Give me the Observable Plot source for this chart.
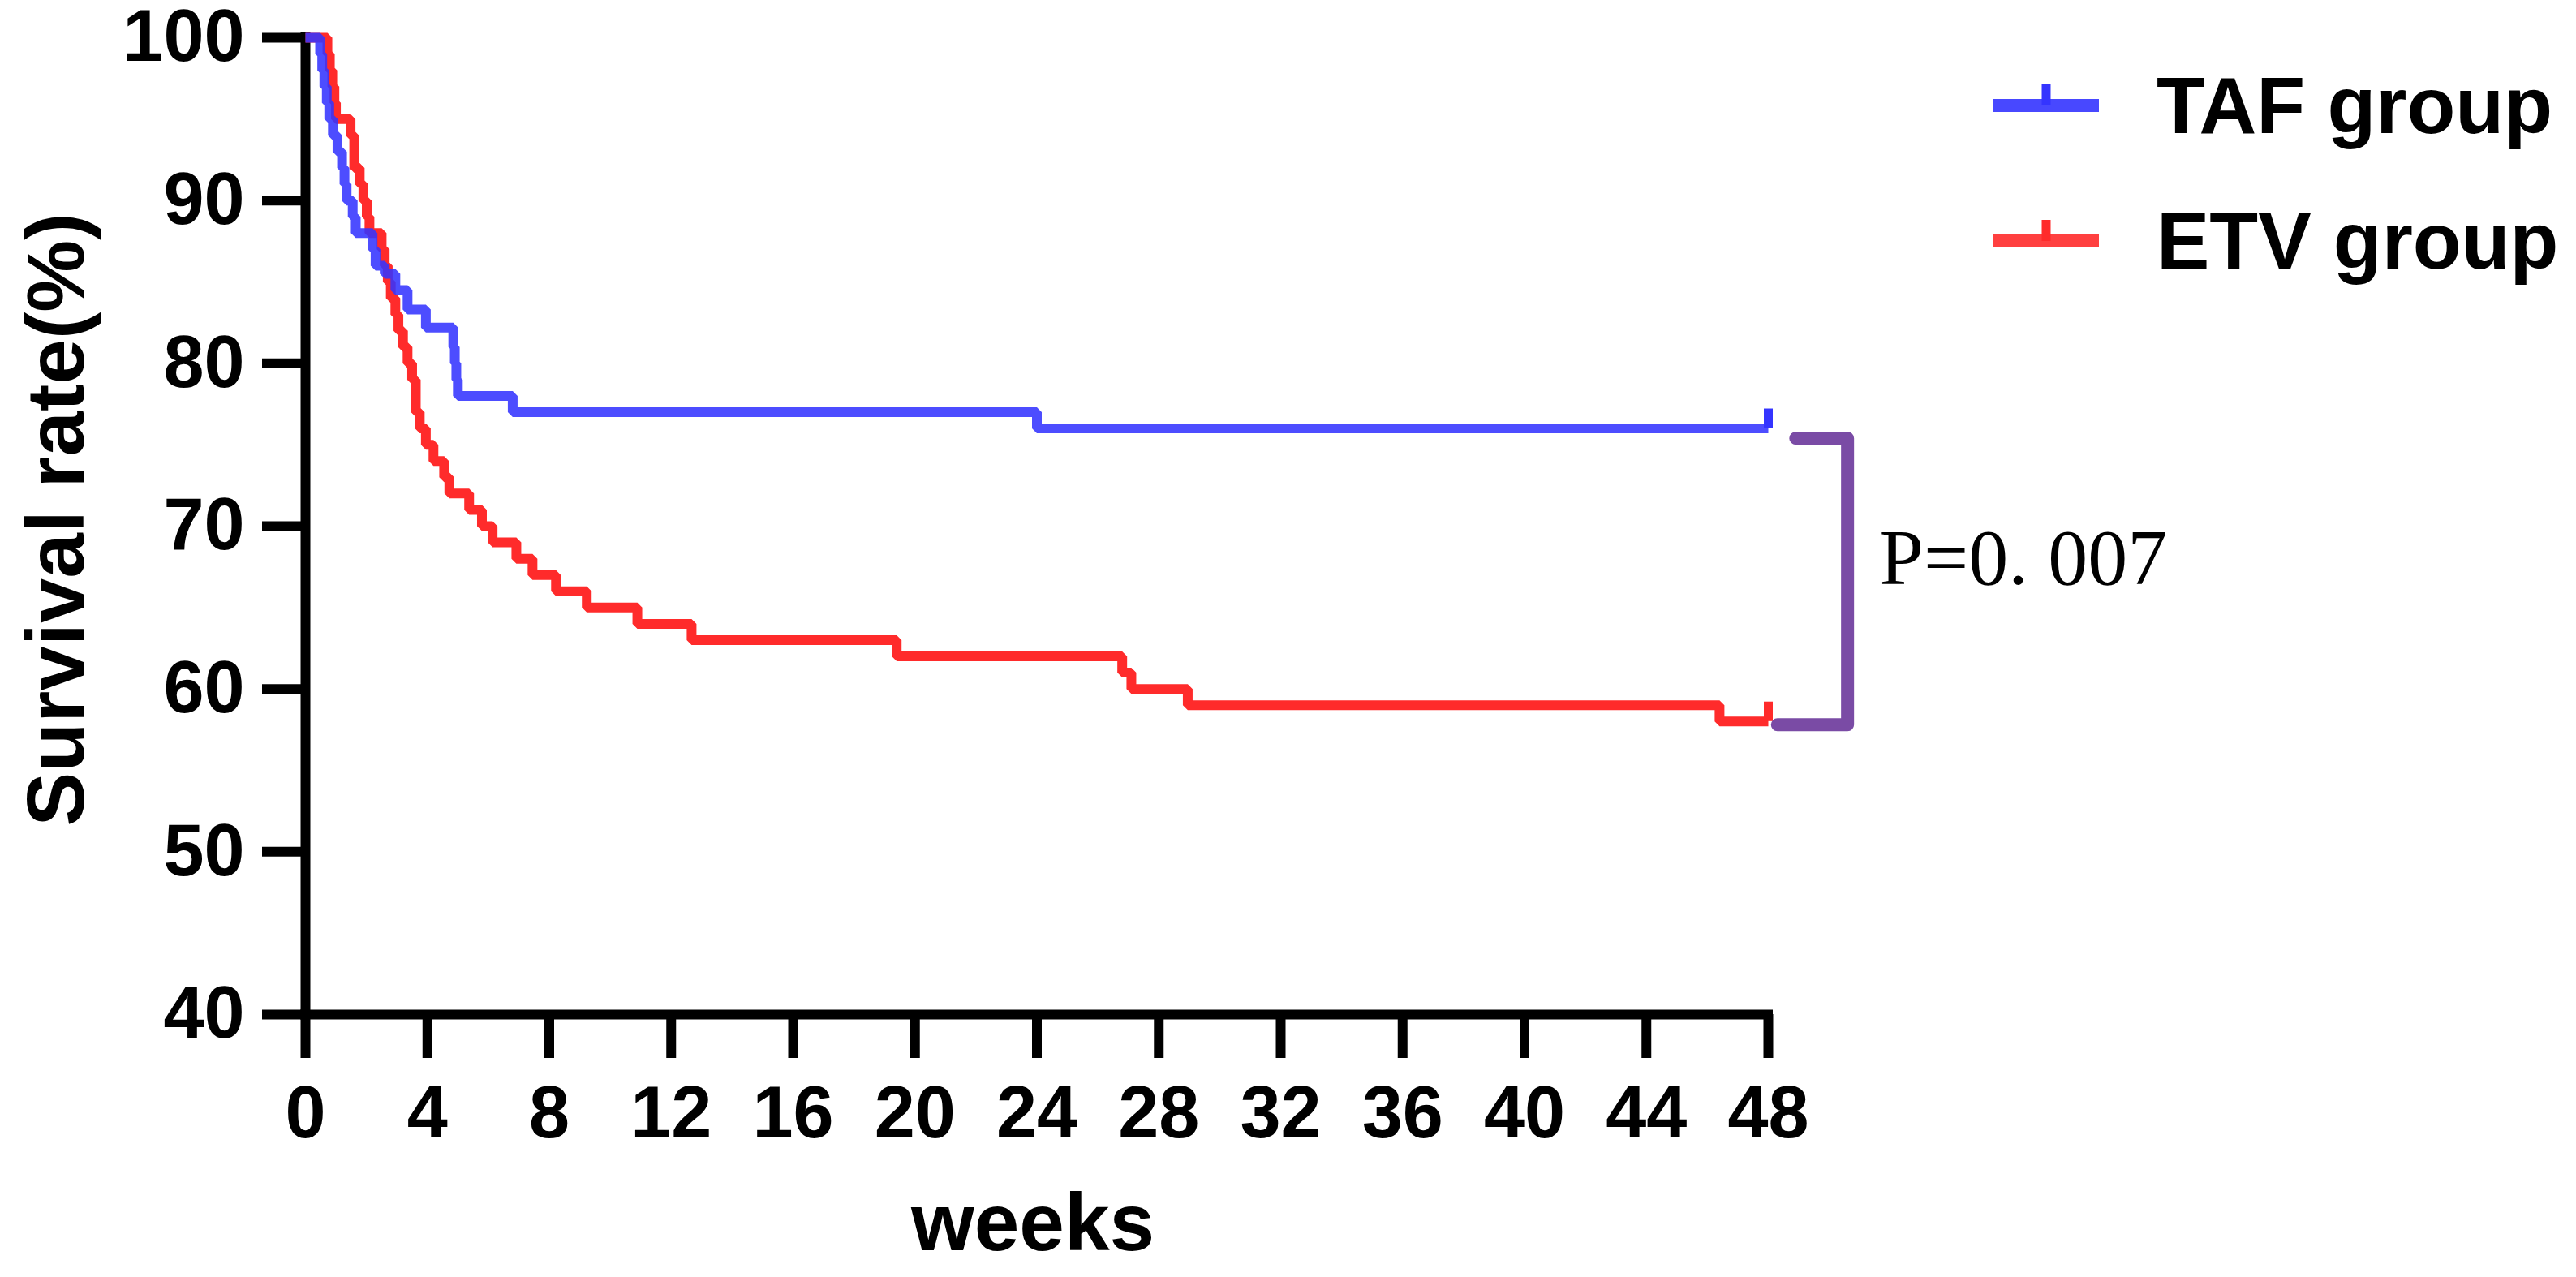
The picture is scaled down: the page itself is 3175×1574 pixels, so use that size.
<!DOCTYPE html>
<html>
<head>
<meta charset="utf-8">
<script src="https://cdn.jsdelivr.net/npm/d3@7"></script>
<script src="https://cdn.jsdelivr.net/npm/@observablehq/plot@0.6"></script>
<style>
  html, body { margin: 0; padding: 0; background: #fff; }
  #wrap { position: relative; width: 3175px; height: 1574px; background: #fff; }
  .leg { position: absolute; left: 2457px; height: 120px; display: flex; align-items: center;
         font-family: "Liberation Sans", Arial, sans-serif; font-weight: bold; font-size: 98px;
         line-height: 1; color: #000; white-space: nowrap; }
  .leg svg { margin-right: 71px; display: block; }
</style>
</head>
<body>
<div id="wrap"></div>
<script>
// ---- data ----
const weekTicks = [0, 4, 8, 12, 16, 20, 24, 28, 32, 36, 40, 44, 48];
const rateTicks = [40, 50, 60, 70, 80, 90, 100];
const groups = ["TAF group", "ETV group"];

const tafWeeks = [0, 0.48, 0.55, 0.62, 0.7, 0.78, 0.9, 1.05, 1.2, 1.28, 1.35, 1.55, 1.65, 2.2, 2.3, 2.6, 2.95, 3.35, 3.95, 4.85, 4.9, 4.95, 5.0, 6.8, 24, 48];
const tafRate  = [100, 99, 98, 97, 96, 95, 94, 93, 92, 91, 90, 89, 88, 87, 86, 85.5, 84.5, 83.3, 82.2, 81, 80, 79, 78, 77, 76, 76];

const etvWeeks = [0, 0.72, 0.8, 0.88, 0.95, 1.0, 1.48, 1.6, 1.78, 1.9, 2.01, 2.1, 2.5, 2.6, 2.7, 2.8, 2.95, 3.05, 3.2, 3.35, 3.5, 3.62, 3.75, 3.95, 4.2, 4.55, 4.72, 5.37, 5.79, 6.14, 6.92, 7.45, 8.22, 9.23, 10.89, 12.67, 19.4, 26.8, 27.1, 28.95, 46.4, 48];
const etvRate  = [100, 99, 98, 97, 96, 95, 94, 92, 91, 90, 89, 88, 87, 86, 85, 84, 83, 82, 81, 80, 79, 77, 76, 75, 74, 73, 72, 71, 70, 69, 68, 67, 66, 65, 64, 63, 62, 61, 60, 59, 58, 58];

const tafCensorWeeks = [48];
const etvCensorWeeks = [48];

const pLabel = "P=0. 007";
const xLabel = "weeks";
const yLabel = "Survival rate(%)";

// ---- styles ----
const colors = ["#3434ff", "#ff2b2b"];
const bracketColor = "#7a4ba5";

// ---- build tables ----
const toRows = (w, r) => w.map((t, i) => ({t, s: r[i]}));
const taf = toRows(tafWeeks, tafRate);
const etv = toRows(etvWeeks, etvRate);
const survAt = (rows, t) => { let s = rows[0].s; for (const d of rows) if (d.t <= t) s = d.s; return s; };
const tafCens = tafCensorWeeks.map(t => ({t, s: survAt(taf, t)}));
const etvCens = etvCensorWeeks.map(t => ({t, s: survAt(etv, t)}));
const censorLen = 1.2;

// bracket annotation derived from the curve ends
const lastT = tafWeeks[tafWeeks.length - 1];
const bTop = tafRate[tafRate.length - 1] - 0.6;
const bBot = etvRate[etvRate.length - 1] - 0.2;
const bracket = [
  {x: lastT + 0.9, y: bTop}, {x: lastT + 2.6, y: bTop},
  {x: lastT + 2.6, y: bBot}, {x: lastT + 0.3, y: bBot}
];

const chart = Plot.plot({
  width: 3175,
  height: 1574,
  marginLeft: 376,
  marginRight: 996,
  marginTop: 46,
  marginBottom: 324,
  x: {domain: [0, 48]},
  y: {domain: [40, 100]},
  style: {fontFamily: "'Liberation Sans', Arial, sans-serif", fontWeight: "bold", color: "#000", background: "#fff", overflow: "visible"},
  marks: [
    Plot.axisX(weekTicks, {tickSize: 54, tickPadding: 34, strokeWidth: 12, fontSize: 90, label: null, tickFormat: d => String(d)}),
    Plot.axisY(rateTicks, {tickSize: 53, tickPadding: 22, strokeWidth: 12, fontSize: 90, label: null, tickFormat: d => String(d)}),
    Plot.ruleX([0], {strokeWidth: 12, strokeLinecap: "square"}),
    Plot.ruleY([40], {strokeWidth: 12, strokeLinecap: "square"}),
    Plot.line(etv, {x: "t", y: "s", curve: "step-after", stroke: colors[1], strokeWidth: 12, strokeLinejoin: "miter", strokeLinecap: "butt"}),
    Plot.ruleX(etvCens, {x: "t", y1: "s", y2: d => d.s + censorLen, stroke: colors[1], strokeWidth: 11}),
    Plot.line(taf, {x: "t", y: "s", curve: "step-after", stroke: colors[0], strokeWidth: 12, strokeOpacity: 0.88, strokeLinejoin: "miter", strokeLinecap: "butt"}),
    Plot.ruleX(tafCens, {x: "t", y1: "s", y2: d => d.s + censorLen, stroke: colors[0], strokeWidth: 11}),
    Plot.line(bracket, {x: "x", y: "y", stroke: bracketColor, strokeWidth: 16, strokeLinejoin: "round", strokeLinecap: "round"}),
    Plot.text([pLabel], {x: lastT + 3.65, y: (bTop + bBot) / 2 + 1.4, textAnchor: "start", fontFamily: "'Liberation Serif', 'Times New Roman', serif", fontWeight: "normal", fontSize: 98, fill: "#000"}),
    Plot.text([yLabel], {frameAnchor: "left", textAnchor: "middle", dx: -306, dy: -8, rotate: -90, fontSize: 100, fill: "#000"}),
    Plot.text([xLabel], {frameAnchor: "bottom", dx: -5, dy: 290, fontSize: 100, fill: "#000"})
  ]
});

const wrap = document.getElementById("wrap");
wrap.appendChild(chart);

// legend
const legendCenters = [130, 297];
groups.forEach((g, i) => {
  const row = document.createElement("div");
  row.className = "leg";
  row.style.top = (legendCenters[i] - 60) + "px";
  const ns = "http://www.w3.org/2000/svg";
  const sw = document.createElementNS(ns, "svg");
  sw.setAttribute("width", 130); sw.setAttribute("height", 120);
  const ln = document.createElementNS(ns, "line");
  ln.setAttribute("x1", 0); ln.setAttribute("x2", 130); ln.setAttribute("y1", 60); ln.setAttribute("y2", 60);
  ln.setAttribute("stroke", colors[i]); ln.setAttribute("stroke-width", 16); ln.setAttribute("stroke-opacity", 0.9);
  const tk = document.createElementNS(ns, "line");
  tk.setAttribute("x1", 65); tk.setAttribute("x2", 65); tk.setAttribute("y1", 60); tk.setAttribute("y2", 34);
  tk.setAttribute("stroke", colors[i]); tk.setAttribute("stroke-width", 11);
  sw.appendChild(ln); sw.appendChild(tk);
  const tx = document.createElement("span");
  tx.textContent = g;
  row.appendChild(sw); row.appendChild(tx);
  wrap.appendChild(row);
});
</script>
</body>
</html>
